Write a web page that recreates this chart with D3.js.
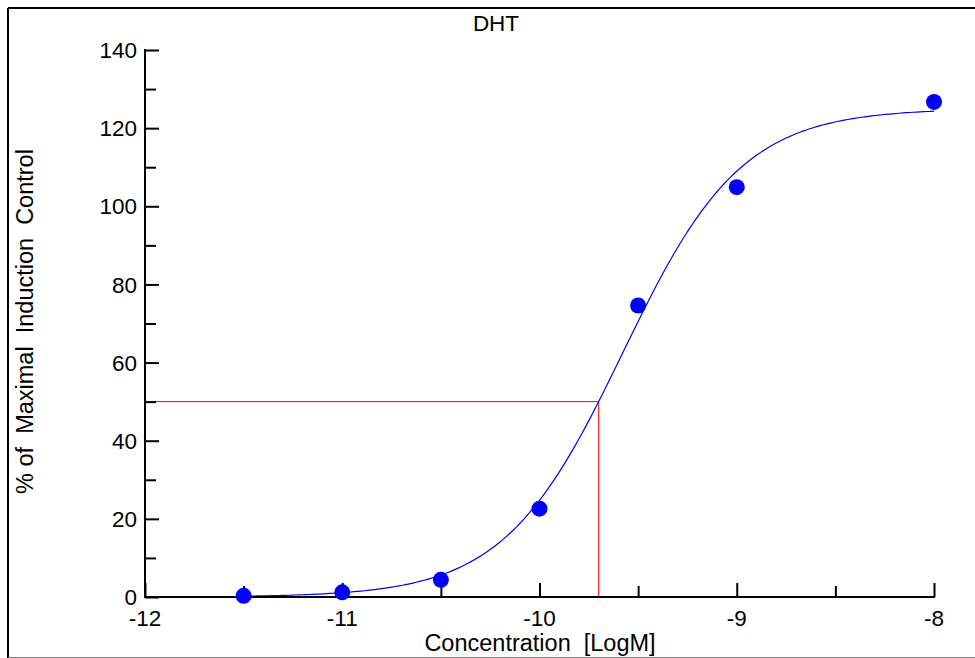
<!DOCTYPE html>
<html>
<head>
<meta charset="utf-8">
<script src="https://cdn.jsdelivr.net/npm/d3@7"></script>
<style>
  html, body { margin: 0; padding: 0; background: #fff; }
  svg { display: block; font-family: "Liberation Sans", Arial, sans-serif; }
</style>
</head>
<body>
<svg id="chart" width="975" height="658"></svg>
<script>
// ---- data ----
const logConc = [-11.5, -11, -10.5, -10, -9.5, -9, -8];
const response = [0.3, 1.2, 4.4, 22.6, 74.6, 104.9, 126.7];
const xTicks = [-12, -11, -10, -9, -8];
const xMinorTicks = [-11.5, -10.5, -9.5, -8.5];
const yTicks = [0, 20, 40, 60, 80, 100, 120, 140];
const yMinorTicks = [10, 30, 50, 70, 90, 110, 130];
// 4-parameter logistic fit (as drawn)
const fitBottom = 0, fitTop = 125, fitLogEC50 = -9.578, fitHill = 1.44;
const fitRange = [-11.5, -8];
// 50% reference line
const refY = 50, refX = -9.70;

const titleText = "DHT";
const xTitle = "Concentration  [LogM]";
const yTitle = "% of  Maximal  Induction  Control";

// ---- drawing ----
const svg = d3.select("#chart");
const x = d3.scaleLinear().domain([-12, -8]).range([145, 934]);
const y = d3.scaleLinear().domain([0, 140]).range([597, 50]);

// frame
svg.append("line").attr("x1", 8).attr("x2", 975).attr("y1", 8).attr("y2", 8)
  .attr("stroke", "#000").attr("stroke-width", 2);
svg.append("line").attr("x1", 8).attr("x2", 8).attr("y1", 8).attr("y2", 658)
  .attr("stroke", "#000").attr("stroke-width", 2);
svg.append("line").attr("x1", 8).attr("x2", 975).attr("y1", 657.5).attr("y2", 657.5)
  .attr("stroke", "#808080").attr("stroke-width", 1);

const fs = 22.5;
const fsTitle = 23.5;

// title
svg.append("text").attr("x", 496).attr("y", 31).attr("text-anchor", "middle")
  .attr("font-size", fs).text(titleText);

// reference lines (red)
svg.append("path")
  .attr("d", `M${x(-12)},${y(refY)}H${x(refX)}V${y(0)}`)
  .attr("fill", "none").attr("stroke", "#ff0000").attr("stroke-width", 1);

// fitted curve
const fx = d3.range(0, 201).map(i => fitRange[0] + (fitRange[1] - fitRange[0]) * i / 200);
const fitPts = fx.map(v => [v, fitBottom + (fitTop - fitBottom) / (1 + Math.pow(10, (fitLogEC50 - v) * fitHill))]);
svg.append("path")
  .attr("d", d3.line().x(d => x(d[0])).y(d => y(d[1]))(fitPts))
  .attr("fill", "none").attr("stroke", "#0000ff").attr("stroke-width", 1.2);

// axes
const yAxis = d3.axisRight(y).tickValues(yTicks).tickSize(14).tickFormat("");
const gy = svg.append("g").attr("transform", `translate(${x(-12)},0)`).call(yAxis);
gy.select(".domain").remove();
gy.selectAll(".tick line").attr("stroke", "#000").attr("stroke-width", 2);
svg.append("g").attr("transform", `translate(${x(-12)},0)`)
  .call(d3.axisRight(y).tickValues(yMinorTicks).tickSize(11).tickFormat(""))
  .call(g => g.select(".domain").remove())
  .selectAll(".tick line").attr("stroke", "#000").attr("stroke-width", 2);

const xAxis = d3.axisTop(x).tickValues(xTicks).tickSize(14).tickFormat("");
const gx = svg.append("g").attr("transform", `translate(0,${y(0)})`).call(xAxis);
gx.select(".domain").remove();
gx.selectAll(".tick line").attr("stroke", "#000").attr("stroke-width", 2);
svg.append("g").attr("transform", `translate(0,${y(0)})`)
  .call(d3.axisTop(x).tickValues(xMinorTicks).tickSize(11).tickFormat(""))
  .call(g => g.select(".domain").remove())
  .selectAll(".tick line").attr("stroke", "#000").attr("stroke-width", 2);

// axis lines
svg.append("line").attr("x1", x(-12)).attr("x2", x(-12)).attr("y1", y(140) - 1).attr("y2", y(0) + 1)
  .attr("stroke", "#000").attr("stroke-width", 2);
svg.append("line").attr("x1", x(-12) - 1).attr("x2", x(-8) + 1).attr("y1", y(0)).attr("y2", y(0))
  .attr("stroke", "#000").attr("stroke-width", 2);

// tick labels
svg.append("g").selectAll("text").data(yTicks).join("text")
  .attr("x", 137).attr("y", d => y(d)).attr("dy", "0.36em")
  .attr("text-anchor", "end").attr("font-size", fs).text(d => d);
svg.append("g").selectAll("text").data(xTicks).join("text")
  .attr("x", d => x(d)).attr("y", 626)
  .attr("text-anchor", "middle").attr("font-size", fs).text(d => d);

// axis titles
svg.append("text").attr("x", 540).attr("y", 651).attr("text-anchor", "middle")
  .attr("font-size", fsTitle).style("white-space", "pre").text(xTitle);
svg.append("text").attr("transform", `translate(33,${(y(0) + y(140)) / 2 - 2}) rotate(-90)`)
  .attr("text-anchor", "middle").attr("font-size", fsTitle).style("white-space", "pre").text(yTitle);

// data points
svg.append("g").selectAll("circle").data(logConc.map((v, i) => [v, response[i]])).join("circle")
  .attr("cx", d => x(d[0])).attr("cy", d => y(d[1])).attr("r", 8)
  .attr("fill", "#0000ff");
</script>
</body>
</html>
